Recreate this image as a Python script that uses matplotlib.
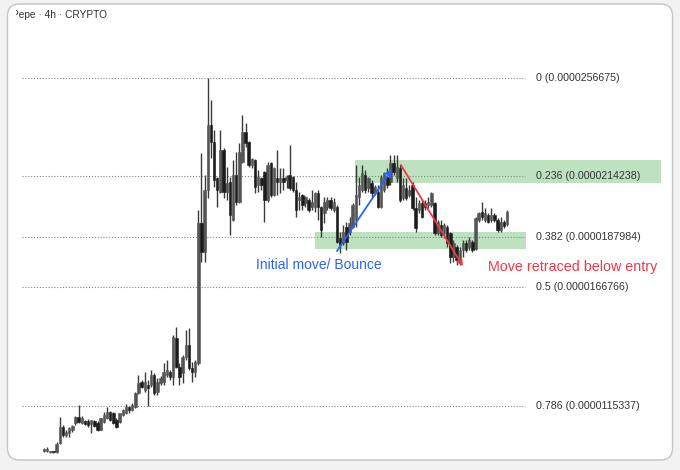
import matplotlib
matplotlib.use("Agg")
import numpy as np
import matplotlib.pyplot as plt
from matplotlib.patches import FancyBboxPatch, Rectangle
from matplotlib.transforms import Bbox, IdentityTransform

plt.rcParams['font.family'] = ['Liberation Sans', 'DejaVu Sans']

# PEPE 4h candles, prices in units of 1e-6
opens = [9.58, 9.58, 9.54, 9.55, 9.54, 9.93, 10.62, 10.27, 10.36, 10.49, 10.79, 11.05, 10.79, 10.88, 10.88, 10.75, 10.88,
         10.79, 10.49, 10.83, 11.01, 11.27, 11.22, 10.92, 10.83, 11.14, 11.22, 11.48, 11.35, 11.48, 12.09, 12.56, 12.21, 12.43,
         12.43, 12.86, 12.13, 12.52, 12.56, 12.86, 12.99, 12.77, 14.46, 13.21, 12.95, 13.64, 14.15, 13.16, 12.99, 13.38,
         19.42, 18.17, 20.84, 23.64, 22.91, 21.36, 20.75, 22.56, 20.75, 21.18, 19.54, 21.49,
         20.32, 22.05, 23.34, 22.91, 21.92, 22.13, 21.05, 21.36, 21.61, 20.41, 22.00, 20.62, 21.36, 21.18, 21.36, 21.27,
         21.49, 21.40, 20.84, 20.41, 20.62, 20.28, 20.41, 20.11, 20.11, 20.71, 20.11, 19.85, 20.11, 20.41, 19.98,
         20.11, 18.77, 18.55, 19.24, 19.03, 19.24, 19.54, 20.54, 20.84, 21.49, 20.92, 21.14, 20.71, 20.75, 20.11, 20.84,
         21.40, 21.18, 22.00, 21.36, 21.79, 20.49, 20.92, 20.62, 21.05, 20.06, 19.98, 20.28,
         20.28, 20.19, 20.19, 20.28, 18.98, 19.33, 18.98, 19.24, 18.98, 17.95, 18.38, 17.73, 18.25, 18.55, 18.38, 18.60,
         18.30, 19.54, 19.89, 19.54, 19.76, 19.54, 19.76, 19.54, 19.11, 19.46, 19.37]
highs = [9.71, 9.76, 9.58, 9.58, 9.97, 11.05, 10.71, 10.49, 10.62, 10.71, 11.09, 11.57, 11.09, 10.92, 10.96, 10.92, 10.92,
         10.88, 11.03, 11.27, 11.48, 11.31, 11.27, 11.01, 11.24, 11.39, 11.61, 11.52, 11.65, 12.13, 12.86, 12.65, 12.99, 12.65,
         13.08, 12.95, 12.73, 12.82, 13.38, 13.51, 13.08, 14.59, 14.93, 13.38, 13.72, 14.80, 14.89, 13.42, 13.51, 19.98,
         22.43, 21.49, 25.6675, 24.72, 23.43, 21.40, 23.43, 22.65, 21.83, 21.40, 22.13, 22.48,
         22.87, 24.07, 23.73, 22.95, 22.22, 22.18, 21.70, 21.40, 21.65, 22.05, 22.05, 21.83, 22.56, 21.79, 21.79, 21.49,
         22.78, 21.44, 21.18, 20.75, 20.66, 20.58, 20.49, 20.84, 20.75, 20.84, 20.15, 20.54, 20.54, 20.54, 20.49,
         20.19, 19.03, 19.33, 19.46, 19.67, 20.28, 21.92, 21.40, 21.92, 21.70, 21.40, 21.27, 21.05, 21.05, 21.49, 21.61,
         21.79, 22.35, 22.35, 22.35, 21.92, 21.36, 21.36, 21.05, 21.18, 20.54, 20.41, 20.41,
         20.41, 20.54, 20.75, 20.32, 19.54, 19.54, 19.42, 19.33, 19.02, 18.68, 18.47, 18.38, 18.68, 18.68, 18.81, 18.68,
         19.67, 19.89, 20.32, 20.06, 19.85, 20.06, 19.85, 19.63, 19.67, 19.54, 19.98]
lows = [9.54, 9.54, 9.50, 9.50, 9.50, 9.89, 10.19, 10.19, 10.19, 10.40, 10.71, 10.79, 10.75, 10.71, 10.62, 10.36, 10.62,
        10.45, 10.49, 10.79, 10.96, 10.88, 10.75, 10.60, 10.79, 11.09, 11.18, 11.22, 11.31, 11.44, 12.04, 12.30, 12.13, 11.52,
        12.34, 12.00, 12.00, 12.43, 12.43, 12.77, 12.65, 12.43, 13.16, 12.43, 12.52, 13.51, 13.08, 12.56, 12.77, 13.30,
        17.73, 17.73, 20.49, 22.22, 20.97, 20.11, 20.71, 20.49, 20.41, 18.90, 19.50, 20.19,
        20.28, 22.00, 22.69, 21.83, 21.79, 20.71, 20.75, 20.84, 19.46, 20.32, 20.54, 20.58, 20.62, 20.71, 20.84, 20.92,
        20.84, 20.75, 19.67, 19.98, 19.98, 20.11, 19.89, 19.98, 19.89, 19.54, 18.81, 19.42, 19.98, 19.98, 19.89,
        18.55, 18.12, 18.47, 18.25, 18.90, 19.20, 19.24, 20.19, 20.75, 20.71, 20.75, 20.54, 20.62, 20.06, 20.06, 20.75,
        20.92, 21.05, 21.49, 21.18, 20.32, 20.41, 20.41, 20.54, 19.98, 19.03, 19.85, 19.63,
        19.98, 20.06, 20.11, 18.90, 18.90, 18.81, 18.77, 18.38, 17.69, 17.73, 17.60, 17.60, 17.95, 18.17, 18.25, 18.17,
        18.25, 19.46, 19.54, 19.46, 19.42, 19.46, 19.46, 19.03, 19.03, 19.20, 19.28]
closes = [9.67, 9.67, 9.55, 9.54, 9.89, 10.62, 10.27, 10.40, 10.58, 10.66, 11.05, 10.83, 11.01, 10.75, 10.71, 10.92, 10.66,
          10.49, 11.01, 11.14, 11.27, 10.92, 10.79, 10.62, 11.22, 11.35, 11.48, 11.35, 11.57, 12.09, 12.52, 12.34, 12.56, 12.30,
          12.86, 12.09, 12.56, 12.73, 12.99, 13.08, 12.77, 14.50, 13.21, 12.77, 13.64, 14.15, 13.16, 12.99, 13.42, 19.42,
          18.17, 20.84, 23.64, 22.91, 21.27, 20.84, 22.56, 20.75, 21.14, 19.76, 21.49, 20.32,
          22.48, 23.34, 22.87, 21.92, 22.18, 20.97, 21.40, 21.05, 20.41, 21.92, 20.62, 21.79, 21.18, 21.36, 21.18, 21.40,
          20.92, 20.84, 19.98, 20.54, 20.19, 20.54, 19.98, 20.32, 20.71, 20.11, 19.11, 20.32, 20.41, 20.06, 20.32,
          18.60, 18.47, 19.03, 18.60, 19.42, 20.19, 20.62, 21.05, 21.57, 20.84, 21.36, 20.71, 20.97, 20.11, 21.40, 21.57,
          21.05, 22.00, 21.61, 21.83, 20.41, 21.05, 20.49, 20.84, 20.06, 19.20, 20.28, 19.67,
          20.11, 20.32, 20.71, 18.98, 19.46, 18.90, 19.33, 18.55, 17.95, 18.55, 17.82, 18.25, 18.55, 18.25, 18.68, 18.25,
          19.63, 19.85, 19.67, 19.85, 19.46, 19.76, 19.54, 19.11, 19.46, 19.28, 19.89]

# fibonacci retracement levels
fib_ratios = [0, 0.236, 0.382, 0.5, 0.786]
fib_prices = [25.6675, 21.4238, 18.7984, 16.6766, 11.5337]

# highlighted zones (price ranges) and where they start (candle index)
zone_lo = [21.14, 18.30]
zone_hi = [22.13, 19.03]
zone_start = [98.7, 86.0]

# annotation arrows: (candle index, price)
bounce_from = (93.0, 18.21)
bounce_to = (110.5, 21.74)
retrace_from = (113.3, 21.92)
retrace_to = (133.0, 17.56)

W, H = 680, 470
fig = plt.figure(figsize=(W / 100, H / 100), dpi=100)
fig.patch.set_facecolor('#f2f2f2')

# white card with rounded corners
card = FancyBboxPatch((7.5, 10), 665, 456, boxstyle="round,pad=0,rounding_size=12",
                      transform=IdentityTransform(), facecolor='white', edgecolor='#c4c4c4',
                      linewidth=1, zorder=0)
fig.patches.append(card)

ax = fig.add_axes([0, 0, 1, 1])
ax.set_facecolor('none')
ax.set_zorder(1)
ax.axis('off')

# map candle index and price to the picture
n = len(opens)
step = (507 - 44) / (n - 1)
ax.set_xlim(-44 / step, (W - 44) / step)
ppu = (406 - 78) / (fib_prices[0] - fib_prices[-1])
ax.set_ylim(fib_prices[0] - (H - 78) / ppu, fib_prices[0] + 78 / ppu)

o = np.array(opens)
c = np.array(closes)
hi = np.array(highs)
lo = np.array(lows)
x = np.arange(n)
up = c >= o

# fib lines and labels
ytr = ax.get_yaxis_transform()
for r, p in zip(fib_ratios, fib_prices):
    ax.plot([22 / W, 525 / W], [p, p], transform=ytr, color='#858585', lw=0.8,
            ls=(0, (1, 1.6)), zorder=1)
    ax.text(536 / W, p, f"{r:g} ({p * 1e-6:.10f})", transform=ytr, fontsize=7.7,
            color='#333333', va='center', ha='left', zorder=5)

# zones
zone_end = [661 / W, 526 / W]
for lo_p, hi_p, xs, xe in zip(zone_lo, zone_hi, zone_start, zone_end):
    x0 = (ax.transData.transform((xs, 0))[0]) / W
    ax.add_patch(Rectangle((x0, lo_p), xe - x0, hi_p - lo_p, transform=ytr,
                           facecolor='#4caf50', alpha=0.36, edgecolor='none', zorder=2))

# candles
body_w = 0.78
bot = np.minimum(o, c)
hgt = np.maximum(np.abs(c - o), 0.05)
ax.vlines(x, lo, hi, color='#3a3a3a', lw=1.0, zorder=3)
ax.bar(x[up], hgt[up], bottom=bot[up], width=body_w, color='#555555',
       edgecolor='#555555', linewidth=0.4, zorder=4)
ax.bar(x[~up], hgt[~up], bottom=bot[~up], width=body_w, color='#1c1c1c',
       edgecolor='#1c1c1c', linewidth=0.4, zorder=4)

# arrows and notes
ax.annotate('', xy=bounce_to, xytext=bounce_from,
            arrowprops=dict(arrowstyle='->', color='#2962ff', lw=1.3, shrinkA=0, shrinkB=0,
                            mutation_scale=11), zorder=6)
ax.annotate('', xy=retrace_to, xytext=retrace_from,
            arrowprops=dict(arrowstyle='->', color='#f23645', lw=1.3, shrinkA=0, shrinkB=0,
                            mutation_scale=9), zorder=6)
ax.text((319 - 44) / step, 17.60, 'Initial move/ Bounce', color='#2962ff', fontsize=10,
        ha='center', va='center', zorder=6)
ax.text((488 - 44) / step, 17.52, 'Move retraced below entry', color='#f23645', fontsize=10.3,
        ha='left', va='center', zorder=6)

# header, clipped at the left like the screenshot
t = fig.text(11.5 / W, 1 - 15 / H, 'Pepe · 4h · CRYPTO', fontsize=7.3, color='#333333',
             va='center', ha='left')
t.set_clip_box(Bbox.from_extents(15.5, 0, W, H))
t.set_clip_on(True)

fig.savefig('out.png', dpi=100, facecolor=fig.get_facecolor())
